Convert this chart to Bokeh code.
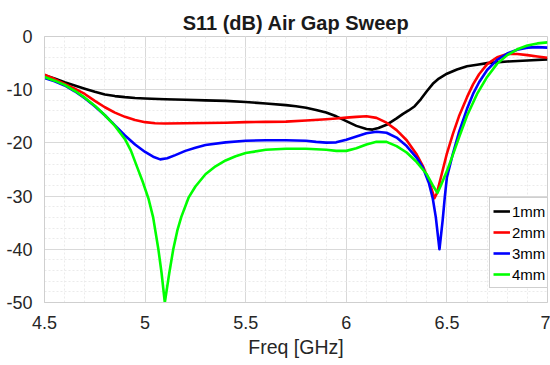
from bokeh.plotting import figure
from bokeh.models import FixedTicker, NumeralTickFormatter, Range1d
from bokeh.embed import file_html
from bokeh.resources import INLINE

# ---------------- data ----------------
title_text = "S11 (dB) Air Gap Sweep"
x_label = "Freq [GHz]"
x_ticks = [4.5, 5.0, 5.5, 6.0, 6.5, 7.0]
x_tick_labels = ["4.5", "5", "5.5", "6", "6.5", "7"]
y_ticks = [0, -10, -20, -30, -40, -50]
y_tick_labels = ["0", "-10", "-20", "-30", "-40", "-50"]

series_names = ["1mm", "2mm", "3mm", "4mm"]
series_colors = ["#000000", "#ff0000", "#0000ff", "#00ff00"]

f_1mm = [4.5, 4.55, 4.6, 4.65, 4.7, 4.75, 4.8, 4.85, 4.9, 4.95, 5.0, 5.1, 5.2, 5.3, 5.4,
         5.5, 5.6, 5.7, 5.75, 5.8, 5.85, 5.9, 5.95, 6.0, 6.05, 6.1, 6.13, 6.16, 6.2, 6.25,
         6.28, 6.31, 6.34, 6.37, 6.4, 6.43, 6.46, 6.5, 6.55, 6.6, 6.65, 6.7, 6.8, 6.9, 7.0]
s_1mm = [-7.3, -7.9, -8.6, -9.2, -9.8, -10.4, -10.9, -11.2, -11.4, -11.55, -11.65, -11.8, -11.9, -12.0, -12.1,
         -12.3, -12.6, -12.9, -13.1, -13.4, -13.8, -14.3, -15.0, -15.9, -16.8, -17.4, -17.5, -17.2, -16.6, -15.4,
         -14.6, -13.9, -13.1, -11.8, -10.3, -8.9, -7.9, -7.0, -6.2, -5.6, -5.3, -5.0, -4.7, -4.5, -4.3]

f_2mm = [4.5, 4.55, 4.6, 4.65, 4.7, 4.75, 4.8, 4.85, 4.9, 4.95, 5.0, 5.05, 5.1, 5.2, 5.3,
         5.4, 5.5, 5.6, 5.7, 5.8, 5.9, 5.95, 6.0, 6.05, 6.1, 6.15, 6.2, 6.25, 6.3, 6.35,
         6.38, 6.41, 6.438, 6.45, 6.47, 6.5, 6.53, 6.56, 6.6, 6.63, 6.66, 6.7, 6.75, 6.8, 6.85,
         6.9, 6.95, 7.0]
s_2mm = [-7.2, -8.0, -8.9, -9.8, -10.8, -12.1, -13.3, -14.3, -15.1, -15.7, -16.1, -16.3, -16.35, -16.3, -16.25,
         -16.2, -16.1, -16.05, -16.0, -15.8, -15.55, -15.4, -15.25, -15.1, -15.0, -15.3, -16.2, -17.6, -19.5, -22.2,
         -24.3, -27.0, -30.4, -29.5, -26.5, -22.0, -18.3, -15.0, -11.4, -9.0, -7.1, -5.2, -3.9, -3.3, -3.3,
         -3.5, -3.75, -4.0]

f_3mm = [4.5, 4.55, 4.6, 4.65, 4.7, 4.75, 4.8, 4.85, 4.9, 4.95, 5.0, 5.04, 5.075, 5.11, 5.15,
         5.2, 5.25, 5.3, 5.4, 5.5, 5.6, 5.7, 5.8, 5.85, 5.9, 5.95, 6.0, 6.05, 6.1, 6.15,
         6.2, 6.25, 6.3, 6.35, 6.38, 6.41, 6.43, 6.445, 6.463, 6.479, 6.49, 6.5, 6.53, 6.56, 6.6,
         6.63, 6.66, 6.7, 6.75, 6.8, 6.85, 6.9, 6.95, 7.0]
s_3mm = [-7.8, -8.4, -9.2, -10.3, -11.6, -13.1, -14.8, -16.7, -18.6, -20.3, -21.7, -22.6, -23.1, -22.9, -22.3,
         -21.5, -20.9, -20.4, -19.9, -19.6, -19.5, -19.5, -19.6, -19.8, -19.95, -19.9, -19.4, -18.8, -18.2, -17.9,
         -18.1, -19.0, -20.6, -22.8, -24.6, -27.5, -30.5, -34.0, -40.0, -34.5, -30.0, -26.5, -22.0, -18.0, -13.6,
         -10.8, -8.6, -6.3, -4.4, -3.2, -2.5, -2.1, -2.0, -2.1]

f_4mm = [4.5, 4.55, 4.6, 4.65, 4.7, 4.75, 4.8, 4.85, 4.9, 4.93, 4.96, 4.99, 5.017, 5.04, 5.066,
         5.082, 5.098, 5.12, 5.14, 5.16, 5.18, 5.216, 5.25, 5.3, 5.35, 5.4, 5.45, 5.5, 5.6, 5.7,
         5.8, 5.9, 5.95, 6.0, 6.05, 6.1, 6.15, 6.2, 6.25, 6.3, 6.35, 6.4, 6.43, 6.453, 6.47,
         6.5, 6.53, 6.56, 6.6, 6.65, 6.7, 6.75, 6.8, 6.85, 6.9, 6.95, 7.0]
s_4mm = [-7.6, -8.3, -9.1, -10.2, -11.5, -13.0, -14.8, -16.8, -19.3, -21.5, -24.5, -27.5, -30.5, -34.0, -40.0,
         -44.5, -50.0, -44.5, -40.0, -36.5, -33.9, -30.3, -28.2, -25.9, -24.4, -23.3, -22.5, -21.9, -21.3, -21.1,
         -21.1, -21.3, -21.5, -21.5, -21.0, -20.3, -19.8, -19.8, -20.6, -21.8, -23.6, -25.9, -28.0, -29.4, -28.0,
         -25.3, -22.2, -19.0, -14.9, -10.8, -7.6, -5.1, -3.5, -2.4, -1.7, -1.3, -1.1]

series_f = [f_1mm, f_2mm, f_3mm, f_4mm]
series_s = [s_1mm, s_2mm, s_3mm, s_4mm]

FONT = "Liberation Sans"

p = figure(width=550, height=365, output_backend="svg", toolbar_location=None,
           x_range=Range1d(4.5, 7.0), y_range=Range1d(-50, 0),
           min_border_left=44, min_border_right=3, min_border_top=36, min_border_bottom=63,
           title=title_text)

p.background_fill_color = "white"
p.border_fill_color = "white"
p.outline_line_color = "#cfcfcf"

p.title.text_font = FONT
p.title.text_font_size = "20px"
p.title.text_font_style = "bold"
p.title.text_color = "#1a1a1a"
p.title.align = "center"
p.title.standoff = 5

for ax in (p.xaxis[0], p.yaxis[0]):
    ax.axis_line_color = "#cfcfcf"
    ax.major_tick_line_color = None
    ax.minor_tick_line_color = None
    ax.major_label_text_font = FONT
    ax.major_label_text_font_size = "18px"
    ax.major_label_text_color = "#262626"

p.xaxis.ticker = FixedTicker(ticks=x_ticks, minor_ticks=[4.5 + 0.1 * i for i in range(26)])
p.yaxis.ticker = FixedTicker(ticks=y_ticks, minor_ticks=[-50 + 2 * i for i in range(26)])
p.xaxis.formatter = NumeralTickFormatter(format="0.[0]")
p.yaxis.formatter = NumeralTickFormatter(format="0")
p.xaxis.major_label_overrides = dict(zip(x_ticks, x_tick_labels))
p.yaxis.major_label_overrides = dict(zip(y_ticks, y_tick_labels))
p.xaxis.major_label_standoff = 7
p.yaxis.major_label_standoff = 6

p.xaxis.axis_label = x_label
p.xaxis.axis_label_text_font = FONT
p.xaxis.axis_label_text_font_size = "19.5px"
p.xaxis.axis_label_text_font_style = "normal"
p.xaxis.axis_label_text_color = "#262626"
p.xaxis.axis_label_standoff = 4

p.grid.grid_line_color = "#d9d9d9"
p.grid.grid_line_width = 1
p.grid.minor_grid_line_color = "#ebebeb"
p.grid.minor_grid_line_dash = "2 2"

for name, color, fx, sy in zip(series_names, series_colors, series_f, series_s):
    p.line(fx, sy, line_color=color, line_width=2.6, line_join="round", legend_label=name)

lg = p.legend[0]
lg.location = (445, 14)
lg.margin = 0
lg.padding = 3
lg.spacing = 1
lg.glyph_width = 17
lg.glyph_height = 20
lg.label_height = 20
lg.label_standoff = 2
lg.label_text_font = FONT
lg.label_text_font_size = "15px"
lg.label_text_color = "#000000"
lg.border_line_color = "#a0a0a0"
lg.border_line_width = 1
lg.background_fill_color = "white"
lg.background_fill_alpha = 1.0

open("out.html", "w").write(file_html(p, INLINE))
